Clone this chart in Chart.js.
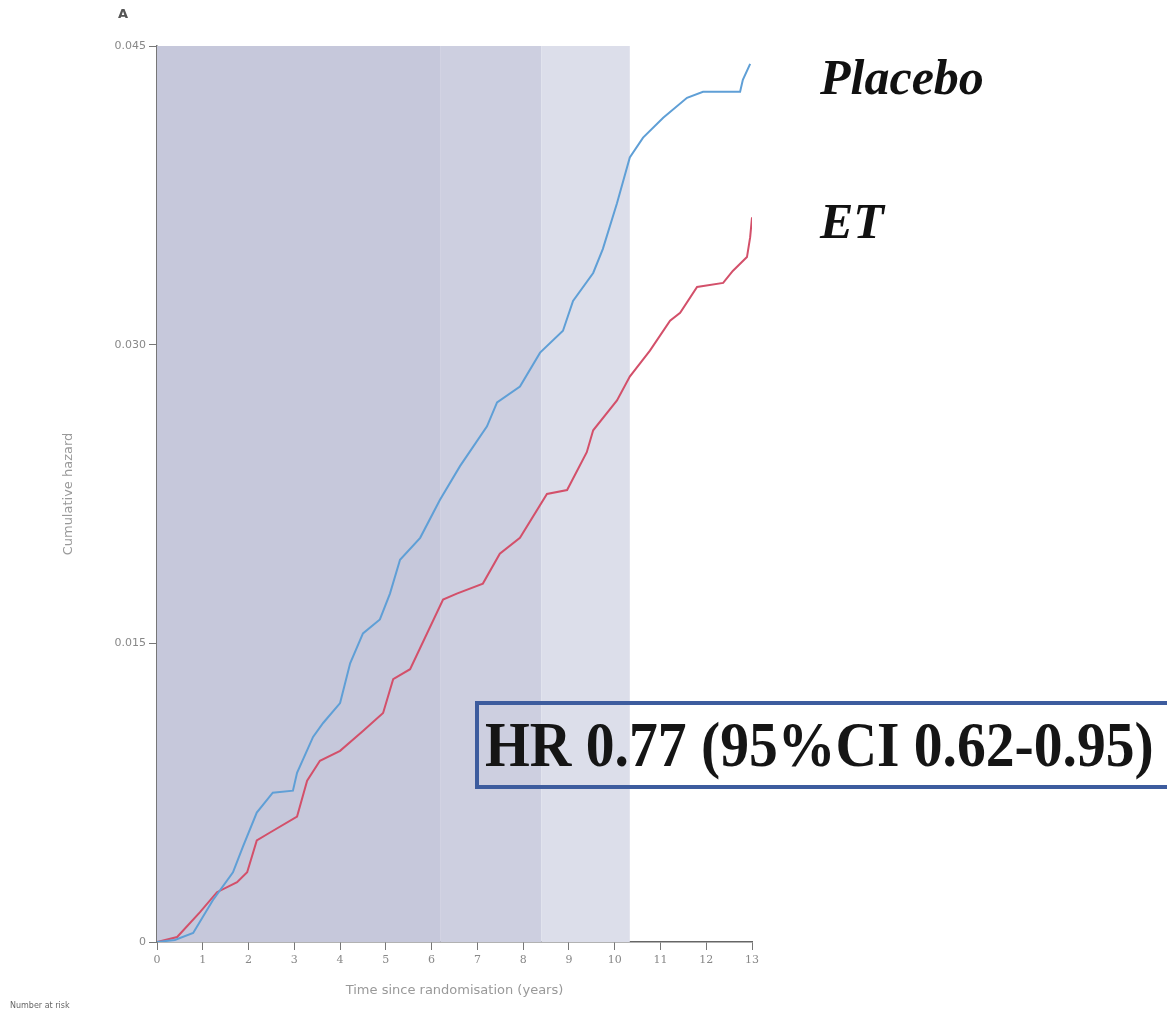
<!DOCTYPE html>
<html>
<head>
<meta charset="utf-8">
<script src="https://cdn.jsdelivr.net/npm/chart.js@4"></script>
<style>
  body { margin: 0; background: #fff; }
  #wrap { position: relative; width: 1167px; height: 1014px; overflow: hidden; }
  #chart { position: absolute; left: 0; top: 0; }
  .lab { position: absolute; font-family: "Liberation Serif", "DejaVu Serif", serif; color: #111; white-space: nowrap; }
  .grp { font-weight: bold; font-style: italic; font-size: 50px; }
  #hr { left: 475px; top: 701px; width: 690px; height: 80px; border: 4px solid #3d5c9e; box-sizing: content-box; }
  #hr span { position: absolute; left: 6px; top: 0; font-weight: bold; font-size: 64px; line-height: 80px;
             color: #151515; transform: scaleX(0.9); transform-origin: left center; }
  .small { position: absolute; font-family: "DejaVu Sans", sans-serif; color: #666; white-space: nowrap; }
</style>
</head>
<body>
<div id="wrap">
  <canvas id="chart" width="1167" height="1014"></canvas>
  <div class="small" style="left:118px; top:6px; font-size:13px; font-weight:bold; color:#555;">A</div>
  <div class="lab grp" style="left:820px; top:48px;">Placebo</div>
  <div class="lab grp" style="left:820px; top:192px;">ET</div>
  <div class="lab" id="hr"><span>HR 0.77 (95%CI 0.62-0.95)</span></div>
  <div class="small" style="left:10px; top:1001px; font-size:8px;">Number at risk</div>
</div>
<script>
// 数据
const placeboYears = [0, 0.39, 0.79, 1.22, 1.66, 1.88, 2.18, 2.53, 2.97, 3.06, 3.41, 3.63, 4.00, 4.22, 4.50, 4.87, 5.09, 5.31, 5.75, 6.18, 6.62, 7.21, 7.43, 7.93, 8.37, 8.87, 9.09, 9.53, 9.74, 10.05, 10.33, 10.62, 11.06, 11.58, 11.93, 12.74, 12.80, 12.96];
const placeboHazard = [0, 0.0001, 0.00045, 0.0021, 0.0035, 0.0048, 0.0065, 0.0075, 0.0076, 0.0085, 0.0103, 0.0110, 0.0120, 0.0140, 0.0155, 0.0162, 0.0175, 0.0192, 0.0203, 0.0222, 0.0239, 0.0259, 0.0271, 0.0279, 0.0296, 0.0307, 0.0322, 0.0336, 0.0348, 0.0371, 0.0394, 0.0404, 0.0414, 0.0424, 0.0427, 0.0427, 0.0433, 0.0441];
const etYears = [0, 0.44, 0.94, 1.31, 1.75, 1.97, 2.18, 2.47, 3.06, 3.28, 3.56, 4.00, 4.50, 4.94, 5.16, 5.53, 6.25, 6.55, 7.12, 7.49, 7.93, 8.52, 8.96, 9.39, 9.53, 10.05, 10.33, 10.77, 11.21, 11.43, 11.80, 12.37, 12.58, 12.89, 12.96, 13.0];
const etHazard = [0, 0.00025, 0.0015, 0.0025, 0.0030, 0.0035, 0.0051, 0.0055, 0.0063, 0.0081, 0.0091, 0.0096, 0.0106, 0.0115, 0.0132, 0.0137, 0.0172, 0.0175, 0.0180, 0.0195, 0.0203, 0.0225, 0.0227, 0.0246, 0.0257, 0.0272, 0.0284, 0.0297, 0.0312, 0.0316, 0.0329, 0.0331, 0.0337, 0.0344, 0.0354, 0.0364];
const yTicks = [0, 0.015, 0.030, 0.045];
const yTickLabels = ['0', '0.015', '0.030', '0.045'];
const xTicks = [0, 1, 2, 3, 4, 5, 6, 7, 8, 9, 10, 11, 12, 13];

// 背景阴影区（扫描件的灰蓝色底）
const shadeBands = [
  { from: 0, to: 6.2, color: '#c6c8db' },
  { from: 6.2, to: 8.4, color: '#cdcfe0' },
  { from: 8.4, to: 10.33, color: '#dcdeea' }
];

const toPoints = (xs, ys) => xs.map((x, i) => ({ x: x, y: ys[i] }));

const shadePlugin = {
  id: 'shade',
  beforeDatasetsDraw(chart) {
    const { ctx, chartArea, scales } = chart;
    ctx.save();
    shadeBands.forEach(b => {
      const x0 = scales.x.getPixelForValue(b.from);
      const x1 = scales.x.getPixelForValue(b.to);
      ctx.fillStyle = b.color;
      ctx.fillRect(x0, chartArea.top, x1 - x0, chartArea.bottom - chartArea.top);
    });
    ctx.restore();
  }
};

new Chart(document.getElementById('chart').getContext('2d'), {
  type: 'line',
  data: {
    datasets: [
      {
        label: 'Placebo',
        data: toPoints(placeboYears, placeboHazard),
        borderColor: '#5f9fd6',
        borderWidth: 2,
        pointRadius: 0,
        tension: 0
      },
      {
        label: 'ET',
        data: toPoints(etYears, etHazard),
        borderColor: '#d3506a',
        borderWidth: 2,
        pointRadius: 0,
        tension: 0
      }
    ]
  },
  options: {
    responsive: false,
    animation: false,
    layout: { padding: { left: 57, right: 415, top: 46, bottom: 12 } },
    plugins: { legend: { display: false }, tooltip: { enabled: false } },
    scales: {
      x: {
        type: 'linear',
        min: 0,
        max: 13,
        afterFit: s => { s.height = 60; },
        afterBuildTicks: s => { s.ticks = xTicks.map(v => ({ value: v })); },
        grid: { drawOnChartArea: false, tickLength: 8, color: '#777' },
        border: { color: '#666', width: 1.5 },
        ticks: { color: '#888', font: { size: 11, family: 'DejaVu Serif' }, padding: 4 },
        title: { display: true, text: 'Time since randomisation (years)', color: '#999', font: { size: 13, family: 'DejaVu Sans' }, padding: { top: 6 } }
      },
      y: {
        type: 'linear',
        min: 0,
        max: 0.045,
        afterFit: s => { s.width = 100; },
        afterBuildTicks: s => { s.ticks = yTicks.map(v => ({ value: v })); },
        grid: { drawOnChartArea: false, tickLength: 8, color: '#777' },
        border: { color: '#777', width: 1.5 },
        ticks: {
          color: '#888',
          font: { size: 11, family: 'DejaVu Sans' },
          padding: 3,
          callback: (v, i) => yTickLabels[i]
        },
        title: { display: true, text: 'Cumulative hazard', color: '#999', font: { size: 13, family: 'DejaVu Sans' }, padding: { bottom: 0 } }
      }
    }
  },
  plugins: [shadePlugin]
});
</script>
</body>
</html>
